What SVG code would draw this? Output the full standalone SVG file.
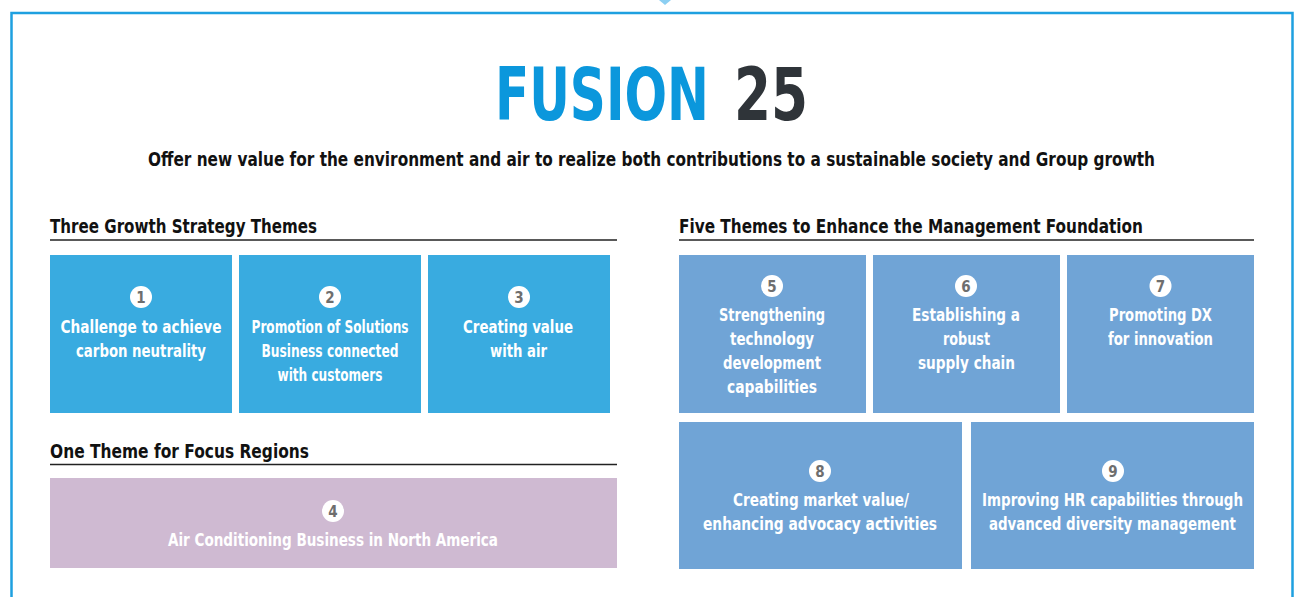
<svg xmlns="http://www.w3.org/2000/svg" width="1300" height="597" viewBox="0 0 1300 597">
<style>
text{font-family:"Liberation Sans Narrow","Arial Narrow","DejaVu Sans Condensed","Liberation Sans",sans-serif;font-weight:bold}
.bt{fill:#ffffff;font-size:18px;text-anchor:middle}
.hd{fill:#111111;font-size:20px}
.num{fill:#6e6e6e;font-size:15px;text-anchor:middle}
.g{fill:#39abe0}
.b{fill:#70a4d6}
.p{fill:#cfbad2}
.c{fill:#ffffff}
.rule{stroke:#222222;stroke-width:1.5}
</style>
<rect width="1300" height="597" fill="#ffffff"/>
<g id="frame">
<polygon points="659,0 671,0 665,5" fill="#8ccff2"/>
<path d="M11.5,600 V13 H1292.5 V600" fill="none" stroke="#1ea0e0" stroke-width="2.5"/>
</g>
<g id="title">
<text transform="translate(495,120) scale(1,1.4)" x="0" y="0" font-size="52" textLength="214" lengthAdjust="spacingAndGlyphs" fill="#0b97dc">FUSION</text>
<text transform="translate(734,120) scale(1,1.4)" x="0" y="0" font-size="52" textLength="74" lengthAdjust="spacingAndGlyphs" fill="#2f3439">25</text>
<text x="148" y="166" font-size="19" textLength="1007" lengthAdjust="spacingAndGlyphs" fill="#111111">Offer new value for the environment and air to realize both contributions to a sustainable society and Group growth</text>
</g>
<g id="headings">
<text class="hd" x="50" y="233" textLength="267" lengthAdjust="spacingAndGlyphs">Three Growth Strategy Themes</text>
<line class="rule" x1="50" y1="240" x2="617" y2="240"/>
<text class="hd" x="679" y="233" textLength="464" lengthAdjust="spacingAndGlyphs">Five Themes to Enhance the Management Foundation</text>
<line class="rule" x1="679" y1="240" x2="1254" y2="240"/>
<text class="hd" x="50" y="458" textLength="259" lengthAdjust="spacingAndGlyphs">One Theme for Focus Regions</text>
<line class="rule" x1="50" y1="464.5" x2="617" y2="464.5"/>
</g>
<g id="node1">
<rect class="g" x="50" y="255" width="182" height="158"/>
<circle class="c" cx="141" cy="297" r="11"/>
<text class="num" x="141" y="302.5">1</text>
<text class="bt" x="141" y="333" textLength="161" lengthAdjust="spacingAndGlyphs">Challenge to achieve</text>
<text class="bt" x="141" y="357" textLength="130" lengthAdjust="spacingAndGlyphs">carbon neutrality</text>
</g>
<g id="node2">
<rect class="g" x="239" y="255" width="182" height="158"/>
<circle class="c" cx="330" cy="297" r="11"/>
<text class="num" x="330" y="302.5">2</text>
<text class="bt" x="330" y="333" textLength="157" lengthAdjust="spacingAndGlyphs">Promotion of Solutions</text>
<text class="bt" x="330" y="357" textLength="137" lengthAdjust="spacingAndGlyphs">Business connected</text>
<text class="bt" x="330" y="381" textLength="105" lengthAdjust="spacingAndGlyphs">with customers</text>
</g>
<g id="node3">
<rect class="g" x="428" y="255" width="182" height="158"/>
<circle class="c" cx="519" cy="297" r="11"/>
<text class="num" x="519" y="302.5">3</text>
<text class="bt" x="518" y="333" textLength="110" lengthAdjust="spacingAndGlyphs">Creating value</text>
<text class="bt" x="518.5" y="357" textLength="57" lengthAdjust="spacingAndGlyphs">with air</text>
</g>
<g id="node4">
<rect class="p" x="50" y="478" width="567" height="90"/>
<circle class="c" cx="333" cy="511" r="11"/>
<text class="num" x="333" y="516.5" font-weight="normal">4</text>
<text class="bt" x="333" y="546" fill="#f8f4f8" textLength="330" lengthAdjust="spacingAndGlyphs">Air Conditioning Business in North America</text>
</g>
<g id="node5">
<rect class="b" x="679" y="255" width="187" height="158"/>
<circle class="c" cx="772" cy="286" r="11"/>
<text class="num" x="772" y="291.5">5</text>
<text class="bt" x="772" y="321" textLength="106" lengthAdjust="spacingAndGlyphs">Strengthening</text>
<text class="bt" x="772" y="345" textLength="84" lengthAdjust="spacingAndGlyphs">technology</text>
<text class="bt" x="772" y="369" textLength="98" lengthAdjust="spacingAndGlyphs">development</text>
<text class="bt" x="772" y="393" textLength="90" lengthAdjust="spacingAndGlyphs">capabilities</text>
</g>
<g id="node6">
<rect class="b" x="873" y="255" width="187" height="158"/>
<circle class="c" cx="966" cy="286" r="11"/>
<text class="num" x="966" y="291.5">6</text>
<text class="bt" x="966" y="321" textLength="108" lengthAdjust="spacingAndGlyphs">Establishing a</text>
<text class="bt" x="966.5" y="345" textLength="47" lengthAdjust="spacingAndGlyphs">robust</text>
<text class="bt" x="966.5" y="369" textLength="97" lengthAdjust="spacingAndGlyphs">supply chain</text>
</g>
<g id="node7">
<rect class="b" x="1067" y="255" width="187" height="158"/>
<circle class="c" cx="1160.5" cy="286" r="11"/>
<text class="num" x="1160.5" y="291.5">7</text>
<text class="bt" x="1160.5" y="321" textLength="103" lengthAdjust="spacingAndGlyphs">Promoting DX</text>
<text class="bt" x="1160.5" y="345" textLength="105" lengthAdjust="spacingAndGlyphs">for innovation</text>
</g>
<g id="node8">
<rect class="b" x="679" y="422" width="283" height="147"/>
<circle class="c" cx="820" cy="471" r="11"/>
<text class="num" x="820" y="476.5">8</text>
<text class="bt" x="821" y="506" textLength="176" lengthAdjust="spacingAndGlyphs">Creating market value/</text>
<text class="bt" x="820" y="530" textLength="234" lengthAdjust="spacingAndGlyphs">enhancing advocacy activities</text>
</g>
<g id="node9">
<rect class="b" x="971" y="422" width="283" height="147"/>
<circle class="c" cx="1113" cy="471" r="11"/>
<text class="num" x="1113" y="476.5">9</text>
<text class="bt" x="1112.5" y="506" textLength="261" lengthAdjust="spacingAndGlyphs">Improving HR capabilities through</text>
<text class="bt" x="1112.5" y="530" textLength="247" lengthAdjust="spacingAndGlyphs">advanced diversity management</text>
</g>
<g id="connectors"></g>
</svg>
